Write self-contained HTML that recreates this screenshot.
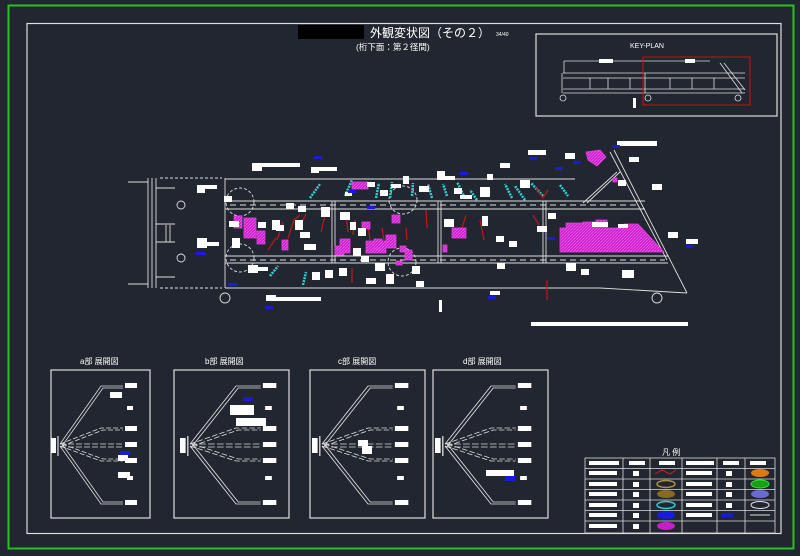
<!DOCTYPE html>
<html><head><meta charset="utf-8"><style>
html,body{margin:0;padding:0;background:#212630;}
svg{display:block}
text{font-family:"Liberation Sans","Noto Sans CJK JP",sans-serif;fill:#fff}
</style></head><body>
<svg width="800" height="556" viewBox="0 0 800 556" xmlns="http://www.w3.org/2000/svg">
<defs>
<pattern id="hm" width="3" height="3" patternUnits="userSpaceOnUse"><rect width="3" height="3" fill="#c41fc4"/><path d="M0 3L3 0" stroke="#f050f0" stroke-width="1"/></pattern>
<g id="fan">
 <rect x="0" y="68" width="5" height="15" fill="#fff"/><line x1="7" y1="66" x2="7" y2="86" stroke="#fff"/>
 <g fill="none" stroke="#ddd" stroke-width="0.8">
  <path d="M9 74 L50 16 H72 M11 76 L52 18 H72"/>
  <path d="M9 76 L50 134 H72 M11 74 L52 132 H72"/>
  <path d="M9 74 L50 58 H72 M11 76 L52 60 H72" stroke-dasharray="5 2"/>
  <path d="M9 76 L50 91 H72 M11 74 L52 89 H72" stroke-dasharray="5 2"/>
  <path d="M9 74 H72 M9 77 H72" stroke-dasharray="6 2"/>
 </g>
 <rect x="74" y="13" width="12" height="5" fill="#fff"/>
 <rect x="74" y="56" width="12" height="5" fill="#fff"/>
 <rect x="74" y="72" width="12" height="5" fill="#fff"/>
 <rect x="74" y="88" width="12" height="5" fill="#fff"/>
 <rect x="74" y="130" width="12" height="5" fill="#fff"/>
 <rect x="76" y="36" width="6" height="4" fill="#fff"/>
 <rect x="76" y="106" width="6" height="4" fill="#fff"/>
</g>
</defs>
<rect x="0" y="0" width="800" height="556" fill="#212630"/>
<rect x="8.5" y="5.5" width="785" height="543" fill="none" stroke="#22c322" stroke-width="2"/>
<rect x="27" y="23.5" width="754" height="510" fill="none" stroke="#ddd" stroke-width="1.2"/>

<!-- title -->
<rect x="298" y="25" width="66" height="14" fill="#000"/>
<text x="370" y="37" font-size="12">外観変状図（その２）</text>
<text x="496" y="36" font-size="5">34/40</text>
<text x="356" y="50" font-size="8.5">(桁下面：第２径間)</text>

<!-- keyplan -->
<rect x="536" y="34" width="241" height="82" fill="none" stroke="#ddd" stroke-width="1.2"/>
<text x="630" y="48" font-size="7">KEY-PLAN</text>
<g stroke="#ddd" fill="none" stroke-width="0.8">
<path d="M564 61 H710 M563 73 H745 M563 78 H745 M563 89 H745 M563 93 H745"/>
<path d="M564 61 V73 M562 73 V93 M645 73 V93 M590 78V89 M608 78V89 M630 78V89 M670 78V89 M692 78V89 M714 78V89 M720 63 L742 93 M724 63 L745 90"/>
<circle cx="563" cy="98" r="3"/><circle cx="648" cy="98" r="3"/><circle cx="738" cy="98" r="3"/>
</g>
<rect x="599" y="59" width="14" height="4" fill="#fff"/><rect x="685" y="59" width="10" height="4" fill="#fff"/>
<rect x="633" y="98" width="3" height="10" fill="#fff"/>
<rect x="643" y="57" width="107" height="48" fill="none" stroke="#d01010" stroke-width="1"/>

<!-- main drawing -->
<g stroke="#ddd" fill="none" stroke-width="0.9">
 <path d="M148 178 V288 M152 178 V288 M156 178 V288 M225 178 V288"/>
 <path d="M160 178 H222 M160 288 H222" stroke-dasharray="3 2"/>
 <path d="M128 182 H148 M128 284 H148 M156 188 H175 M156 277 H175 M156 224 H175 M156 242 H175 M166 225 V242 M170 225 V242"/>
 <path d="M225 179 H545 M545 179 L575 179"/>
 <path d="M225 288 H600 L687 293"/>
 <path d="M614 150 L687 293 M610 152 L667 260"/>
 <path d="M225 201 H645 M225 209 H645 M225 256 H668 M225 263 H668"/>
 <path d="M230 205 H640 M230 260 H665" stroke-dasharray="6 4"/>
 <path d="M332 201 V263 M438 201 V263 M543 201 V263 M335 201 V263 M441 201 V263 M546 201 V263"/>
 <path d="M583 203 L617 172 M587 203 L620 172"/>
 <circle cx="181" cy="205" r="4"/><circle cx="181" cy="258" r="4"/><circle cx="225" cy="298" r="5"/><circle cx="657" cy="298" r="5"/>
 <circle cx="240" cy="202" r="14" stroke-dasharray="3 2"/><circle cx="240" cy="258" r="14" stroke-dasharray="3 2"/>
 <circle cx="403" cy="200" r="14" stroke-dasharray="3 2"/><circle cx="402" cy="262" r="14" stroke-dasharray="3 2"/>
</g>
<!-- cyan members -->
<g stroke="#2ad2d2" stroke-width="2.5" stroke-dasharray="2 1">
<path d="M310 198 L320 184 M345 196 L352 180 M376 198 L379 183 M390 198 L392 182 M412 196 L413 183 M432 198 L428 184 M447 196 L443 184 M465 198 L457 182 M477 200 L470 190 M512 198 L505 184 M525 200 L515 186 M543 196 L531 183 M560 185 L568 196 M270 276 L278 266 M303 285 L306 272"/>
</g>
<!-- red cracks -->
<g stroke="#c01818" stroke-width="1.2" fill="none">
<path d="M277 240 L283 222 M288 238 L294 220 L300 215 M268 250 L276 238 M298 230 L306 214 M321 232 L326 212 M348 232 L346 215 M353 235 L355 220 M370 240 L368 225 M384 240 L382 228 M407 240 L406 228 M427 228 L426 210 M462 228 L466 215 M484 240 L480 220 M533 215 L539 225 M352 283 L352 268 M547 300 L547 280 M536 188 L543 198 L548 190"/>
</g>
<!-- magenta hatch -->
<g fill="url(#hm)" stroke="#e040e0" stroke-width="0.8">
<rect x="234" y="216" width="8" height="12"/><rect x="244" y="218" width="12" height="20"/><rect x="257" y="231" width="8" height="13"/>
<rect x="282" y="240" width="6" height="10"/><rect x="335" y="246" width="9" height="9"/><rect x="340" y="239" width="10" height="14"/>
<rect x="366" y="241" width="20" height="12"/><rect x="362" y="222" width="8" height="7"/><rect x="374" y="239" width="8" height="10"/>
<rect x="386" y="235" width="10" height="13"/><rect x="400" y="246" width="6" height="6"/><rect x="405" y="250" width="7" height="10"/>
<rect x="352" y="182" width="16" height="7"/><rect x="392" y="215" width="8" height="8"/><rect x="452" y="228" width="14" height="10"/>
<rect x="443" y="245" width="4" height="7"/><rect x="396" y="261" width="6" height="4"/>
<path d="M560 228 H566 V223 H583 V222 H596 V220 H607 V228 H624 V224 H638 L664 252 H560 Z"/>
<path d="M586 152 L600 150 L606 157 L597 166 L588 160 Z"/>
<rect x="613" y="178" width="4" height="4"/>
</g>
<!-- labels white -->
<g fill="#fff">
<rect x="252" y="163" width="10" height="8"/><rect x="252" y="163" width="48" height="4"/>
<rect x="311" y="167" width="8" height="6"/><rect x="311" y="167" width="26" height="4"/>
<rect x="197" y="185" width="8" height="8"/><rect x="197" y="185" width="20" height="4"/>
<rect x="197" y="238" width="10" height="10"/><rect x="197" y="242" width="22" height="4"/>
<rect x="248" y="265" width="10" height="8"/><rect x="250" y="267" width="18" height="4"/>
<rect x="266" y="295" width="10" height="6"/><rect x="266" y="297" width="55" height="4"/>
<rect x="224" y="196" width="8" height="6"/><rect x="229" y="221" width="10" height="6"/>
<rect x="232" y="238" width="8" height="10"/><rect x="272" y="220" width="8" height="10"/><rect x="276" y="225" width="8" height="6"/>
<rect x="295" y="220" width="8" height="10"/><rect x="300" y="232" width="10" height="6"/><rect x="304" y="244" width="12" height="6"/>
<rect x="286" y="203" width="8" height="6"/><rect x="298" y="206" width="8" height="6"/>
<rect x="321" y="207" width="9" height="10"/><rect x="340" y="212" width="10" height="8"/>
<rect x="350" y="222" width="6" height="8"/><rect x="358" y="228" width="8" height="8"/><rect x="353" y="248" width="8" height="8"/>
<rect x="345" y="192" width="7" height="4"/><rect x="367" y="182" width="8" height="5"/><rect x="380" y="190" width="8" height="6"/>
<rect x="391" y="184" width="10" height="4"/><rect x="403" y="176" width="6" height="8"/><rect x="419" y="186" width="10" height="6"/>
<rect x="437" y="171" width="8" height="8"/><rect x="437" y="176" width="18" height="4"/><rect x="454" y="188" width="8" height="6"/>
<rect x="460" y="195" width="12" height="4"/><rect x="480" y="187" width="10" height="10"/><rect x="487" y="174" width="6" height="6"/>
<rect x="500" y="163" width="10" height="5"/><rect x="520" y="180" width="10" height="8"/><rect x="528" y="150" width="18" height="5"/>
<rect x="565" y="153" width="10" height="6"/><rect x="617" y="141" width="40" height="5"/><rect x="629" y="157" width="10" height="5"/>
<rect x="618" y="180" width="8" height="6"/><rect x="652" y="184" width="10" height="6"/>
<rect x="444" y="219" width="10" height="8"/><rect x="482" y="216" width="6" height="10"/><rect x="496" y="236" width="8" height="6"/>
<rect x="509" y="241" width="8" height="6"/><rect x="537" y="226" width="10" height="6"/><rect x="548" y="213" width="8" height="6"/>
<rect x="592" y="222" width="16" height="5"/><rect x="618" y="224" width="10" height="4"/><rect x="668" y="232" width="10" height="6"/>
<rect x="686" y="239" width="12" height="5"/><rect x="566" y="263" width="10" height="8"/><rect x="581" y="269" width="8" height="6"/>
<rect x="622" y="270" width="12" height="8"/><rect x="497" y="263" width="8" height="6"/>
<rect x="258" y="222" width="8" height="6"/><rect x="361" y="256" width="8" height="6"/><rect x="375" y="263" width="10" height="8"/>
<rect x="412" y="266" width="8" height="8"/><rect x="312" y="272" width="8" height="8"/><rect x="325" y="270" width="8" height="8"/>
<rect x="339" y="268" width="8" height="8"/><rect x="366" y="278" width="10" height="6"/><rect x="386" y="274" width="8" height="10"/>
<rect x="416" y="281" width="8" height="6"/><rect x="490" y="291" width="10" height="4"/>
<rect x="439" y="300" width="3" height="12"/>
<rect x="531" y="322" width="157" height="4"/>
</g>
<g fill="#1a1adc">
<rect x="314" y="156" width="8" height="3"/><rect x="196" y="252" width="10" height="3"/><rect x="228" y="283" width="10" height="3"/>
<rect x="265" y="306" width="8" height="3"/><rect x="348" y="190" width="8" height="3"/><rect x="367" y="206" width="8" height="3"/>
<rect x="460" y="172" width="8" height="3"/><rect x="529" y="157" width="8" height="3"/><rect x="573" y="161" width="8" height="3"/>
<rect x="612" y="145" width="8" height="3"/><rect x="547" y="237" width="8" height="3"/><rect x="686" y="245" width="8" height="3"/>
<rect x="488" y="296" width="8" height="3"/><rect x="555" y="167" width="8" height="3"/>
</g>

<!-- detail panels -->
<g fill="none" stroke="#ddd" stroke-width="1.2">
<rect x="51" y="370" width="99" height="148"/><rect x="174" y="370" width="115" height="148"/>
<rect x="310" y="370" width="115" height="148"/><rect x="433" y="370" width="115" height="148"/>
</g>
<text x="80" y="364" font-size="8">a部 展開図</text>
<text x="205" y="364" font-size="8">b部 展開図</text>
<text x="338" y="364" font-size="8">c部 展開図</text>
<text x="463" y="364" font-size="8">d部 展開図</text>
<use href="#fan" x="51" y="370"/>
<use href="#fan" transform="translate(180,370) scale(1.12,1)"/>
<use href="#fan" transform="translate(312,370) scale(1.12,1)"/>
<use href="#fan" transform="translate(435,370) scale(1.12,1)"/>
<g fill="#fff">
<rect x="110" y="392" width="12" height="6"/><rect x="118" y="472" width="12" height="6"/><rect x="118" y="455" width="10" height="6"/>
<rect x="230" y="405" width="24" height="10"/><rect x="236" y="418" width="30" height="8"/>
<rect x="358" y="440" width="10" height="6"/><rect x="362" y="446" width="10" height="8"/>
<rect x="486" y="470" width="28" height="6"/>
</g>
<g fill="#1a1adc"><rect x="120" y="451" width="10" height="4"/><rect x="243" y="397" width="10" height="4"/><rect x="505" y="476" width="10" height="5"/></g>

<!-- legend -->
<text x="662" y="455" font-size="8">凡 例</text>
<g stroke="#ddd" stroke-width="0.8" fill="none">
<rect x="585" y="458" width="190" height="75"/>
<path d="M585 468.5H775 M585 479H775 M585 489.5H775 M585 500H775 M585 510.5H775 M585 521H775"/>
<path d="M623 458V533 M650 458V533 M682 458V533 M717 458V533 M745 458V533"/>
</g>
<g fill="#fff">
<rect x="589" y="461" width="30" height="4"/><rect x="629" y="461" width="16" height="4"/><rect x="659" y="461" width="16" height="4"/>
<rect x="686" y="461" width="28" height="4"/><rect x="723" y="461" width="16" height="4"/><rect x="750" y="461" width="16" height="4"/>
<rect x="589" y="471" width="28" height="4"/><rect x="589" y="482" width="28" height="4"/><rect x="589" y="492" width="28" height="4"/>
<rect x="589" y="503" width="28" height="4"/><rect x="589" y="513" width="28" height="4"/><rect x="589" y="524" width="28" height="4"/>
<rect x="686" y="471" width="26" height="4"/><rect x="686" y="482" width="26" height="4"/><rect x="686" y="492" width="26" height="4"/>
<rect x="686" y="503" width="26" height="4"/><rect x="686" y="513" width="26" height="4"/>
<rect x="633" y="471" width="6" height="5"/><rect x="633" y="482" width="6" height="5"/><rect x="633" y="492" width="6" height="5"/>
<rect x="633" y="503" width="6" height="5"/><rect x="633" y="513" width="6" height="5"/><rect x="633" y="524" width="6" height="5"/>
<rect x="726" y="471" width="6" height="5"/><rect x="726" y="482" width="6" height="5"/><rect x="726" y="492" width="6" height="5"/><rect x="726" y="503" width="6" height="5"/>
</g>
<path d="M655 474 L662 470 L670 474 L676 470" stroke="#d02020" fill="none"/>
<ellipse cx="666" cy="484" rx="9" ry="3.5" fill="none" stroke="#b09040" stroke-width="1.5"/>
<ellipse cx="666" cy="494" rx="9" ry="4" fill="#8a6a20"/>
<ellipse cx="666" cy="505" rx="9" ry="3.5" fill="none" stroke="#2ad2d2" stroke-width="1.5"/>
<ellipse cx="666" cy="515" rx="9" ry="4" fill="#1a1adc"/>
<ellipse cx="666" cy="526" rx="9" ry="4" fill="#c41fc4"/>
<ellipse cx="760" cy="473" rx="9" ry="4" fill="#e07a10"/>
<ellipse cx="760" cy="484" rx="9" ry="4" fill="#18a018" stroke="#30e030"/>
<ellipse cx="760" cy="494" rx="9" ry="4" fill="#6a6ad0"/>
<ellipse cx="760" cy="505" rx="9" ry="3.5" fill="none" stroke="#ddd"/>
<rect x="721" y="513" width="12" height="4" fill="#1a1adc"/>
<line x1="750" y1="515" x2="770" y2="515" stroke="#ddd"/>
</svg>
</body></html>
